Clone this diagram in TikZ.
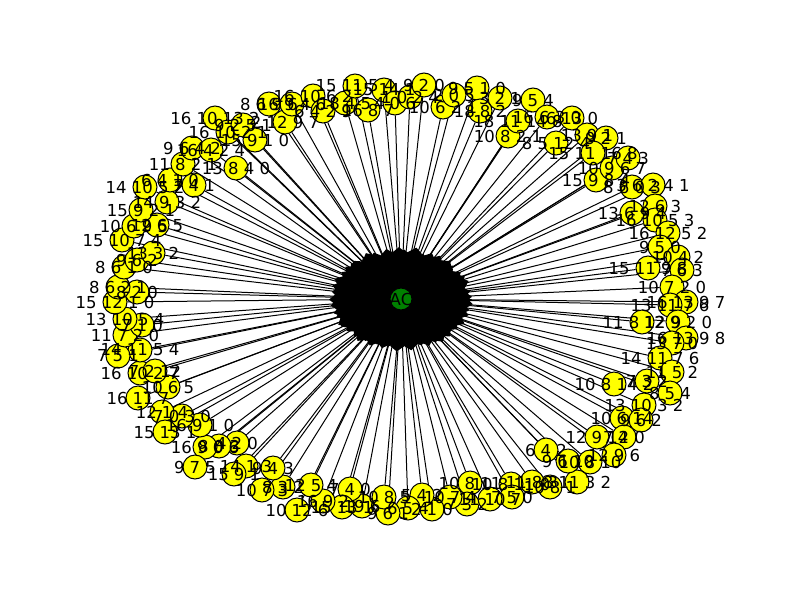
\documentclass[tikz,border=0pt]{standalone}
\usepackage{fontspec}
\setmainfont{DejaVu Sans}
\usetikzlibrary{calc}
\pgfdeclarelayer{bg}
\pgfdeclarelayer{edges}
\pgfdeclarelayer{labels}
\pgfsetlayers{bg,edges,main,labels}
\definecolor{mplgreen}{RGB}{0,128,0}
\definecolor{mplyellow}{RGB}{255,255,0}
\tikzset{
  vnode/.style={circle,draw=black,line width=1pt,fill=mplyellow,minimum size=24pt,inner sep=0pt},
  acnode/.style={circle,draw=black,line width=1pt,fill=mplgreen,minimum size=22pt,inner sep=0pt},
  lbl/.style={inner sep=0pt,font=\fontsize{16.5}{18}\selectfont},
  edgeline/.style={draw=black,line width=1pt},
  wedge/.style={fill=black}
}
\def\nodelist{
215/118/16 10 13 2, 228/132/16 10 2 1, 243/125/9 2 5 1, 255/140/15 9 1 0,
269/104/8 6 9 6, 285/122/2 12 9 7, 292/104/16 9 4 6, 313/96/16 10 6 2,
323/111/6 4 2 9, 345/103/18 4 5, 355/86/15 11 5 4, 368/110/16 8 7,
384/90/15 14 1, 395/103/4 0 6, 410/97/1 0 2 4, 424/85/9 2 0,
443/107/10 6 2 1, 454/95/2 0 5, 477/88/9 5 1 0, 480/111/18 8 2,
500/98/3 2 1, 508/136/10 8 2 1, 518/121/18 11 14 8, 533/100/9 5 4,
547/117/16 6 3 0, 556/143/8 5 12 4, 572/118/6 13 0, 587/135/13 9 1,
606/138/9 2 1, 593/153/15 11 16 8, 596/180/15 9 8 4, 612/168/10 9 6 7,
628/158/7 4 3, 632/187/8 6 0 3, 653/185/3 6 2 4 1, 632/213/13 6 9 4,
655/206/12 6 3, 655/220/16 10 5 3, 668/233/16 12 5 2, 660/247/9 5 0,
678/257/10 4 2, 648/268/15 11 9 8, 682/270/7 6 3, 672/287/10 7 2 0,
686/302/16 13 9 7, 670/305/13 11 7 6, 642/322/11 8 12 9, 678/322/12 9 2 0,
686/338/16 13 9 8, 672/343/13 7 0, 660/358/14 11 7 6, 672/372/11 5 2,
614/384/10 8 14 2, 647/381/7 3 2, 670/393/8 5 4, 644/405/13 10 3 2,
622/418/10 6 14, 641/420/9 6 2, 597/437/12 9 14, 624/437/7 2 0,
614/455/12 9 6, 590/462/10 8 10, 577/482/8 11 3 2, 546/450/6 4 2,
568/461/9 6 10, 550/487/10 8 1, 532/482/11 8 3, 511/484/10 8 11 0,
512/497/7 5 0, 470/483/10 8 11, 490/499/11 10 7, 467/504/7 3 2,
450/497/10 7 4, 432/509/2 1 0, 422/495/5 4 2, 408/508/6 5 4,
388/513/9 6 1, 384/497/10 8 5, 362/506/19 6, 350/489/7 4 0,
342/507/15 13 1, 323/501/16 9 2, 311/485/12 5 4, 297/510/10 12 6,
283/487/8 3 2, 262/490/10 7 3, 273/468/9 4 3, 246/466/14 1 3,
234/474/15 9 1, 237/443/4 2 0, 219/446/8 0 3, 205/447/16 9 0 6,
195/467/9 7 5, 200/425/16 9 1 0, 182/416/7 0 3 0, 162/412/12 1 4,
165/432/15 13 1, 168/387/10 6 5, 138/398/16 11 7, 140/373/16 10 2 7,
155/371/7 2 12, 140/350/14 11 5 4, 118/356/7 5 1, 125/335/11 7 2 0,
142/325/7 1 0, 125/319/13 10 5 4, 115/302/15 12 1 0, 137/292/8 2 0,
118/287/8 6 2 1, 124/267/8 6 1 0, 137/260/9 6 2, 153/253/13 3 2,
122/240/15 10 7 4, 134/226/10 6 9 5, 157/225/12 6 5, 141/210/15 9 2 1,
167/202/14 9 3 2, 145/187/14 10 5 2, 170/180/6 4 1 0, 194/185/7 4 1,
183/164/11 8 2 1, 192/148/9 6 4 2, 211/150/16 4 2 4, 236/168/13 8 4 0
}
\begin{document}
\begin{tikzpicture}[x=1pt,y=-1pt]
\begin{pgfonlayer}{bg}
\fill[white] (0,0) rectangle (800,600);
\end{pgfonlayer}
\useasboundingbox (0,0) rectangle (800,600);
\node[acnode] (ac) at (401,299) {};
\begin{pgfonlayer}{labels}
\node[lbl] at (ac) {AC};
\end{pgfonlayer}
\begin{pgfonlayer}{edges}
\fill[wedge] (ac) ellipse [x radius=52, y radius=38];
\end{pgfonlayer}
\foreach \px/\py/\txt [count=\i] in \nodelist {
  \node[vnode] (n\i) at (\px,\py) {};
  \pgfmathsetmacro{\ang}{atan2(\py-299,\px-401)}
  \pgfmathsetmacro{\angA}{\ang+6}
  \pgfmathsetmacro{\angB}{\ang-6}
  \pgfmathsetmacro{\rx}{63+mod(\i*7,10)}
  \pgfmathsetmacro{\ry}{\rx*0.73}
  \pgfmathsetmacro{\rxs}{\rx-6}
  \pgfmathsetmacro{\rys}{\ry-5}
  \begin{pgfonlayer}{edges}
    \draw[edgeline] (n\i) -- (ac);
    \fill[wedge] ($(ac)+(\angA:{\rxs} and {\rys})$) -- ($(ac)+(\ang:{\rx} and {\ry})$) -- ($(ac)+(\angB:{\rxs} and {\rys})$) -- (ac) -- cycle;
  \end{pgfonlayer}
  \begin{pgfonlayer}{labels}
    \node[lbl] at (n\i) {\txt};
  \end{pgfonlayer}
}
\end{tikzpicture}
\end{document}
